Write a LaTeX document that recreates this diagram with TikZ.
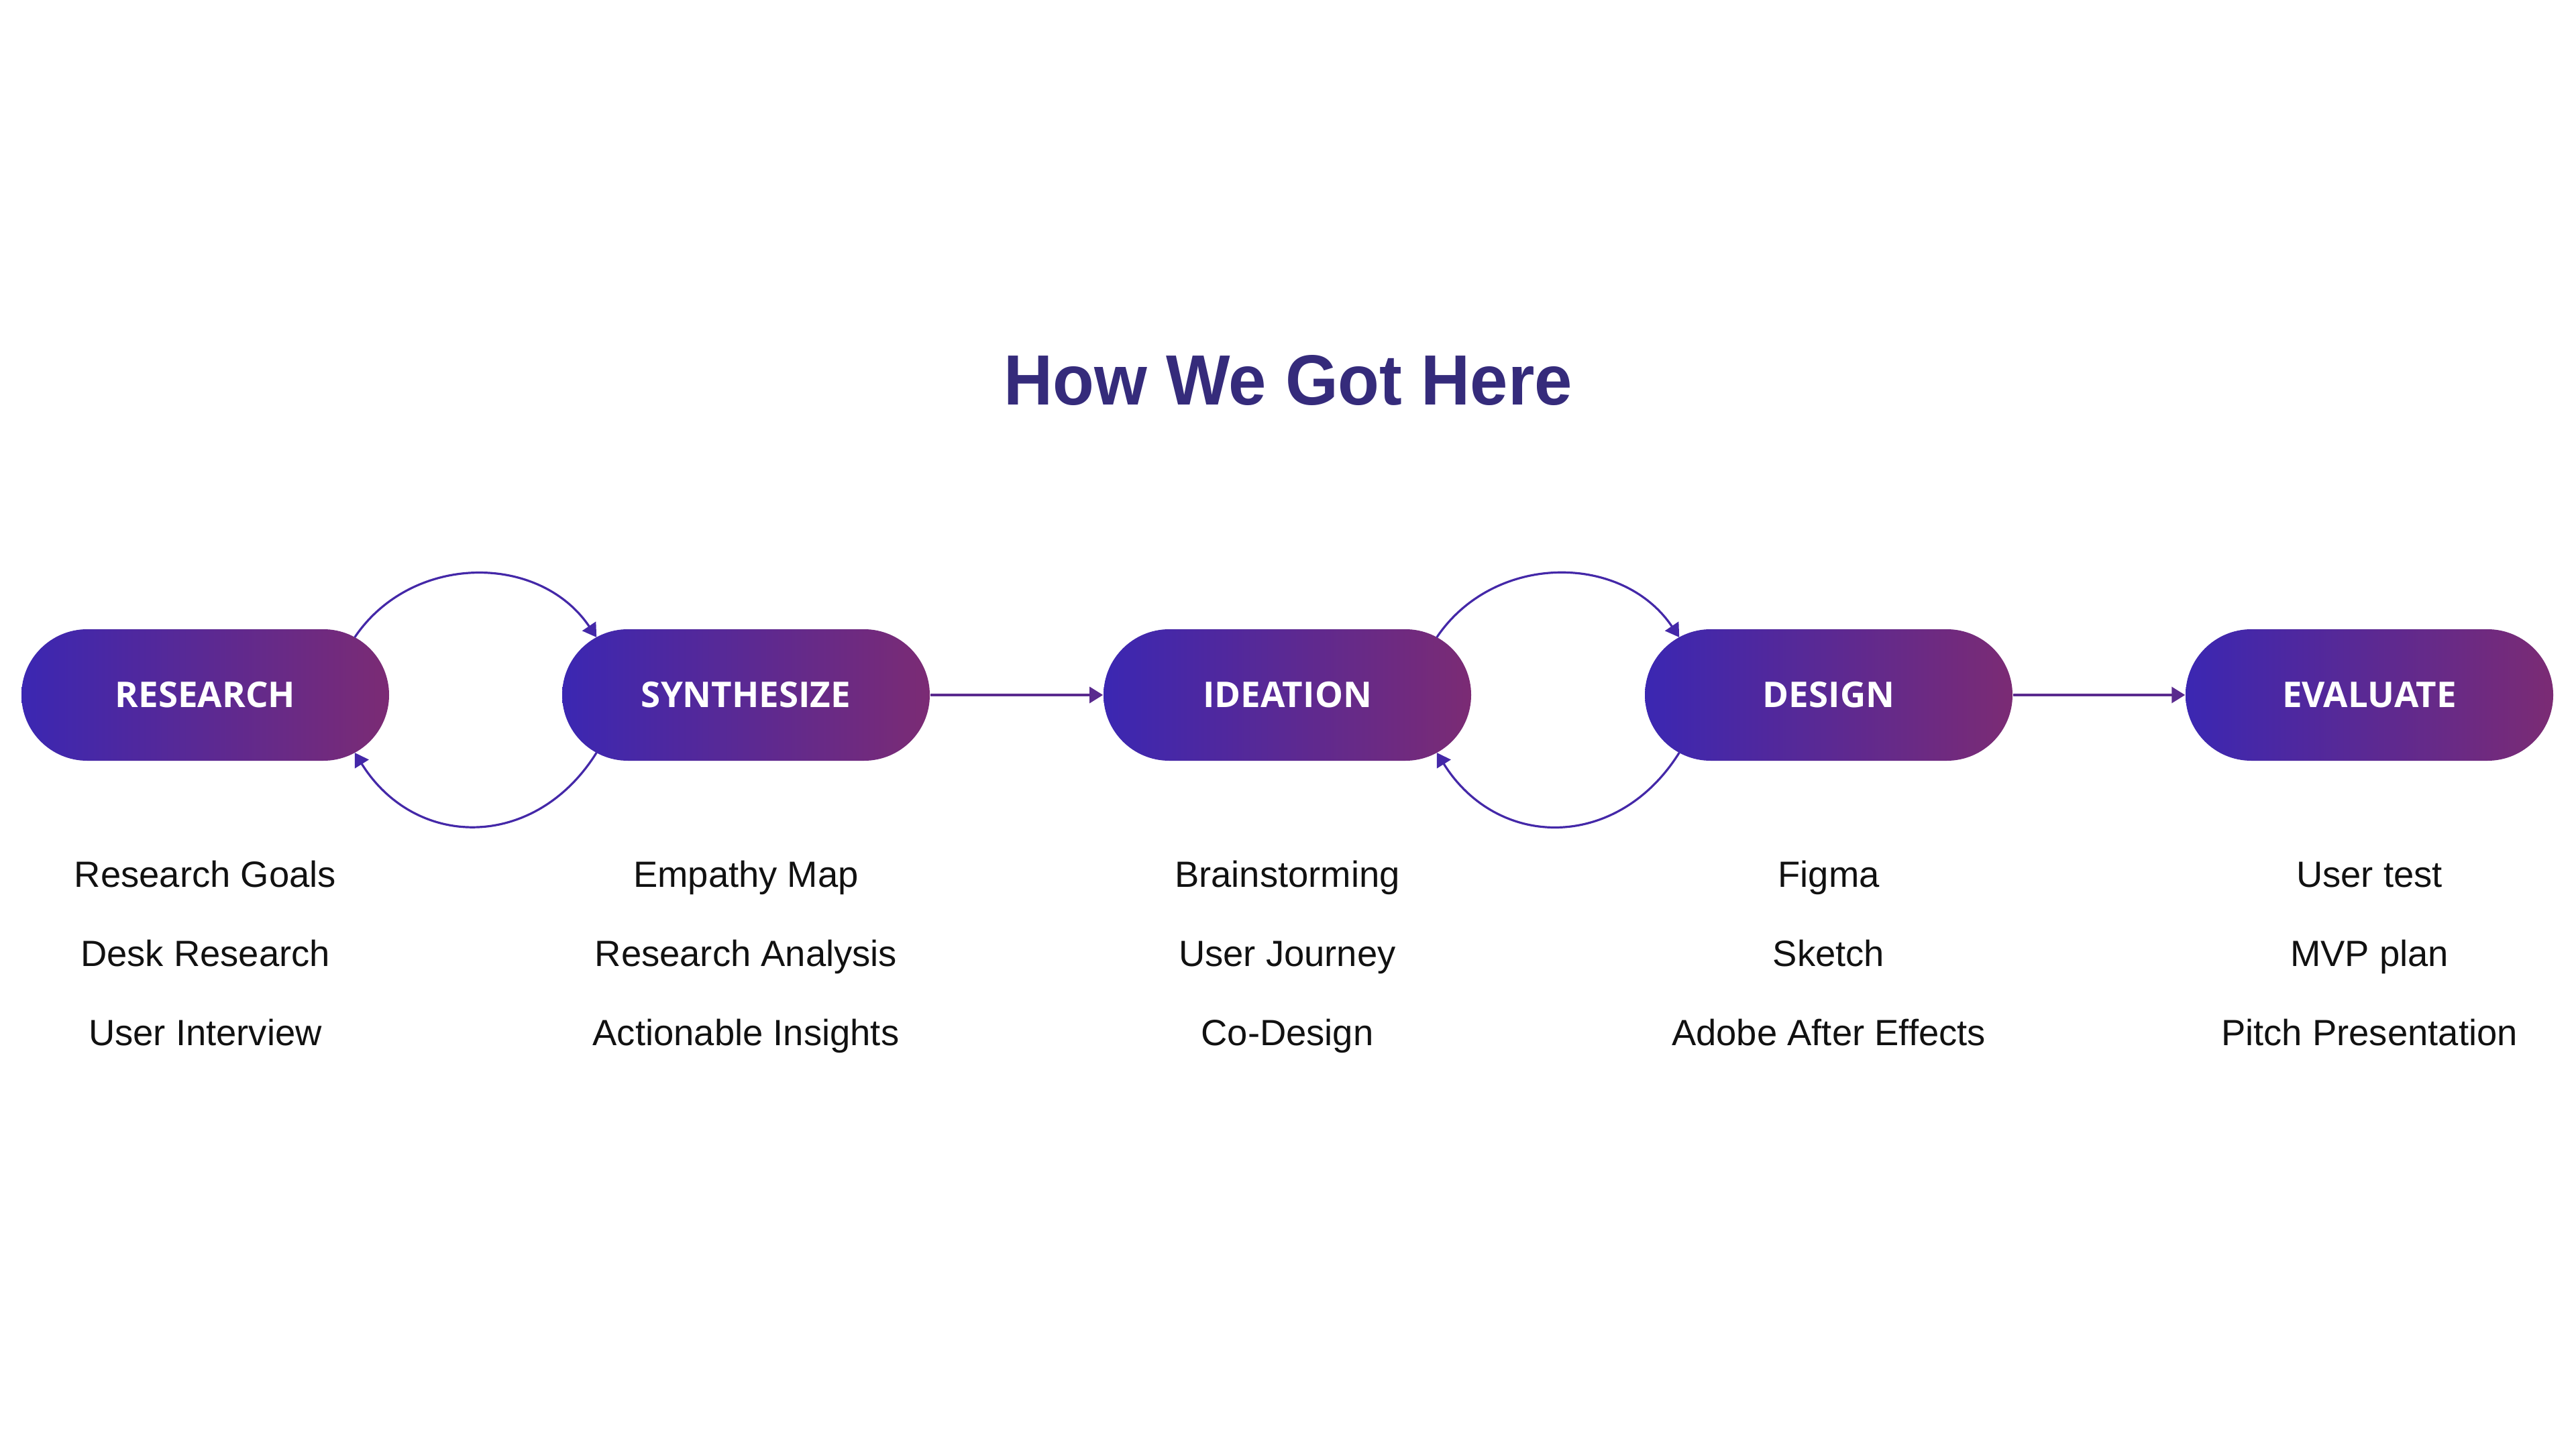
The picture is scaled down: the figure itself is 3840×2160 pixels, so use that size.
\documentclass[tikz,border=0pt]{standalone}
\usepackage{fontspec}
\setmainfont{Liberation Sans}
\newfontfamily\pillfont{Open Sans}
\usetikzlibrary{arrows.meta,calc}
\definecolor{pillL}{HTML}{3B27B2}
\definecolor{pillR}{HTML}{7B2B74}
\definecolor{titlec}{HTML}{352B7B}
\definecolor{arcc}{HTML}{4428A8}
\definecolor{linec}{HTML}{5A2A8E}
\definecolor{listc}{HTML}{111111}
\tikzset{
  pill/.style={rectangle, rounded corners=24.5pt, minimum width=137pt, minimum height=49pt,
    left color=pillL, right color=pillR, draw=none, text=white,
    font=\pillfont\bfseries\fontsize{13.2pt}{15pt}\selectfont, inner sep=0pt},
  item/.style={anchor=base, text=listc, font=\fontsize{13.6pt}{16pt}\selectfont, inner sep=0pt},
  arr/.style={draw=arcc, line width=0.8pt, -{Triangle[length=5pt,width=6pt]}},
  sarr/.style={draw=linec, line width=0.8pt, -{Triangle[length=5pt,width=6pt]}},
}
\begin{document}
\begin{tikzpicture}[x=0.25pt,y=-0.25pt]
\useasboundingbox (0,0) rectangle (3840,2160);
\fill[white] (0,0) rectangle (3840,2160);

\node[anchor=base, text=titlec, inner sep=0pt, xscale=0.955, font=\bfseries\fontsize{26.5pt}{30pt}\selectfont] (title) at (1920,604) {How We Got Here};

\node[pill] (r1) at (306,1036) {RESEARCH};
\node[pill] (r2) at (1112,1036) {SYNTHESIZE};
\node[pill] (r3) at (1919,1036) {IDEATION};
\node[pill] (r4) at (2726,1036) {DESIGN};
\node[pill] (r5) at (3532,1036) {EVALUATE};

% loop arrows between RESEARCH and SYNTHESIZE
\coordinate (a1s) at ($(r1.east)+(-52,-86)$);
\coordinate (a1e) at ($(r2.west)+(52,-86)$);
\coordinate (b1s) at ($(r2.west)+(52,86)$);
\coordinate (b1e) at ($(r1.east)+(-52,86)$);
\draw[arr] (a1s) to[out=56,in=124,looseness=1.08] (a1e);
\draw[arr] (b1s) to[out=-122,in=-58,looseness=1.22] (b1e);

% loop arrows between IDEATION and DESIGN
\coordinate (a2s) at ($(r3.east)+(-52,-86)$);
\coordinate (a2e) at ($(r4.west)+(52,-86)$);
\coordinate (b2s) at ($(r4.west)+(52,86)$);
\coordinate (b2e) at ($(r3.east)+(-52,86)$);
\draw[arr] (a2s) to[out=56,in=124,looseness=1.08] (a2e);
\draw[arr] (b2s) to[out=-122,in=-58,looseness=1.22] (b2e);

% straight arrows
\draw[sarr] (r2.east) -- (r3.west);
\draw[sarr] (r4.east) -- (r5.west);

% lists
\node[item] (l11) at (306,1322) {Research Goals};
\node[item] (l12) at (306,1440) {Desk Research};
\node[item] (l13) at (306,1558) {User Interview};

\node[item] (l21) at (1112,1322) {Empathy Map};
\node[item] (l22) at (1112,1440) {Research Analysis};
\node[item] (l23) at (1112,1558) {Actionable Insights};

\node[item] (l31) at (1919,1322) {Brainstorming};
\node[item] (l32) at (1919,1440) {User Journey};
\node[item] (l33) at (1919,1558) {Co-Design};

\node[item] (l41) at (2726,1322) {Figma};
\node[item] (l42) at (2726,1440) {Sketch};
\node[item] (l43) at (2726,1558) {Adobe After Effects};

\node[item] (l51) at (3532,1322) {User test};
\node[item] (l52) at (3532,1440) {MVP plan};
\node[item] (l53) at (3532,1558) {Pitch Presentation};
\end{tikzpicture}
\end{document}
